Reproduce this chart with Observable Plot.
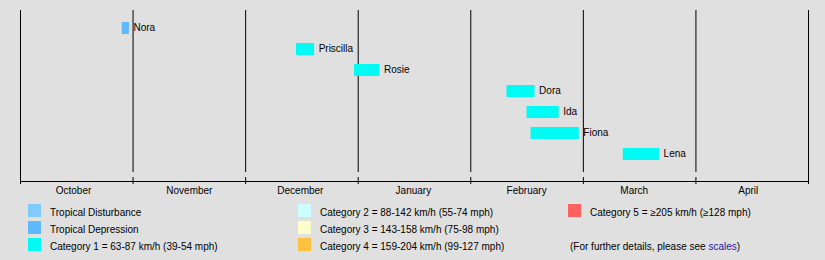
<!DOCTYPE html>
<html>
<head>
<meta charset="utf-8">
<script src="https://cdn.jsdelivr.net/npm/d3@7"></script>
<script src="https://cdn.jsdelivr.net/npm/@observablehq/plot@0.6"></script>
<style>
  html, body { margin: 0; padding: 0; background: #e0e0e0; }
  body { width: 825px; height: 260px; position: relative; overflow: hidden;
         font-family: "Liberation Sans", Arial, sans-serif; font-size: 10px; color: #000; }
  #chart { position: absolute; left: 0; top: 0; }
  .item { position: absolute; height: 17px; display: flex; align-items: center; white-space: nowrap; }
  .sw { width: 13px; height: 13px; margin-top: -3px; margin-right: 9px; flex: none; }
  a { color: #1a1aa6; text-decoration: none; }
</style>
</head>
<body>
<div id="chart"></div>
<div id="legend"></div>
<script>
// ---- data ----
const months = ["October", "November", "December", "January", "February", "March", "April"];
const monthLabelAt = [0.471, 1.5, 2.486, 3.49, 4.496, 5.452, 6.465];
const monthNumbers = [10, 11, 12, 1, 2, 3, 4];
const monthDays = [31, 30, 31, 31, 28, 31, 30];

const stormNames = ["Nora", "Priscilla", "Rosie", "Dora", "Ida", "Fiona", "Lena"];
const stormStart = ["10-29", "12-15", "12-31", "02-10", "02-15", "02-16", "03-12"];
const stormEnd   = ["10-31", "12-20", "01-07", "02-17", "02-23", "02-28", "03-22"];
const stormCat   = ["TD", "C1", "C1", "C1", "C1", "C1", "C1"];

const catKeys   = ["TDi", "TD", "C1", "C2", "C3", "C4", "C5"];
const catColors = ["#80ccff", "#5ebaff", "#00faf4", "#ccffff", "#ffffcc", "#ffc140", "#ff6060"];
const catLabels = [
  "Tropical Disturbance",
  "Tropical Depression",
  "Category 1 = 63-87 km/h (39-54 mph)",
  "Category 2 = 88-142 km/h (55-74 mph)",
  "Category 3 = 143-158 km/h (75-98 mph)",
  "Category 4 = 159-204 km/h (99-127 mph)",
  "Category 5 = \u2265205 km/h (\u2265128 mph)"
];

// month-index position (each month same width, as in the timeline)
function pos(md) {
  const [m, d] = md.split("-").map(Number);
  const i = monthNumbers.indexOf(m);
  return i + (d - 1) / monthDays[i];
}

const storms = stormNames.map((name, i) => ({
  name,
  start: pos(stormStart[i]),
  end: pos(stormEnd[i]),
  color: catColors[catKeys.indexOf(stormCat[i])]
}));

const chart = Plot.plot({
  width: 825,
  height: 200,
  marginLeft: 20,
  marginRight: 17,
  marginTop: 10,
  marginBottom: 23,
  style: { background: "transparent", fontFamily: "'Liberation Sans', Arial, sans-serif", fontSize: "10px", color: "#000", overflow: "visible" },
  x: { domain: [0, 7], axis: null },
  y: { domain: stormNames, axis: null, range: [16, 165], paddingInner: 0.44, paddingOuter: 0.22 },
  marks: [
    Plot.ruleX(d3.range(1, 7), { stroke: "#000", strokeWidth: 1, insetBottom: 5 }),
    Plot.ruleX([0, 7], { stroke: "#000", strokeWidth: 1, insetBottom: -7 }),
    Plot.axisX({ anchor: "bottom", ticks: d3.range(1, 7), tickSize: 7, tickFormat: () => "", stroke: "#000" }),
    Plot.frame({ anchor: "bottom", dy: 4, stroke: "#000" }),
    Plot.barX(storms, { x1: "start", x2: "end", y: "name", fill: "color" }),
    Plot.text(storms, { x: "end", y: "name", text: "name", textAnchor: "start", dx: 4, dy: -1, fill: "#000" }),
    Plot.text(months, { x: (d, i) => monthLabelAt[i], text: d => d, frameAnchor: "bottom", lineAnchor: "middle", dy: 13.5, fill: "#000" })
  ]
});
document.getElementById("chart").appendChild(chart);

// ---- legend ----
const legend = document.getElementById("legend");
const colX = [28, 298, 568];
const rowTop = [203.5, 220.5, 237.5];
catLabels.forEach((label, i) => {
  const col = Math.floor(i / 3), row = i % 3;
  const div = document.createElement("div");
  div.className = "item";
  div.style.left = colX[col] + "px";
  div.style.top = rowTop[row] + "px";
  const sw = document.createElement("div");
  sw.className = "sw";
  sw.style.background = catColors[i];
  div.appendChild(sw);
  const span = document.createElement("span");
  span.textContent = label;
  div.appendChild(span);
  legend.appendChild(div);
});
const note = document.createElement("div");
note.className = "item";
note.style.left = (colX[2] + 2) + "px";
note.style.top = rowTop[2] + "px";
note.innerHTML = "(For further details, please see&nbsp; <a href=\"#\">scales</a>)";
legend.appendChild(note);
</script>
</body>
</html>
